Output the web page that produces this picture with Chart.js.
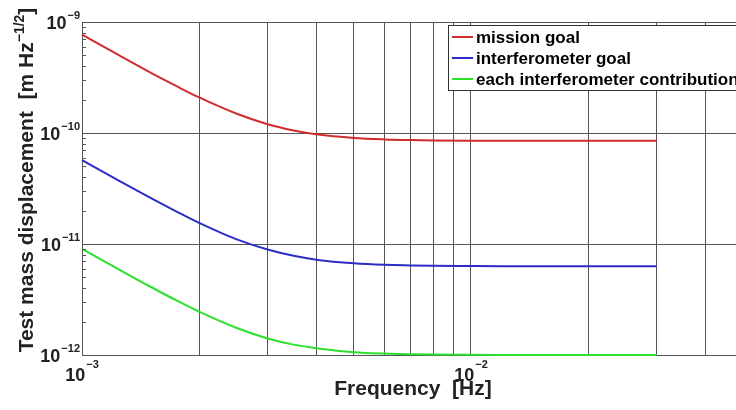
<!DOCTYPE html>
<html>
<head>
<meta charset="utf-8">
<script src="https://cdn.jsdelivr.net/npm/chart.js@4/dist/chart.umd.min.js"></script>
<style>
  html, body { margin: 0; padding: 0; background: #ffffff; }
  #wrap { width: 736px; height: 410px; position: relative; overflow: hidden; }
</style>
</head>
<body>
<div id="wrap"><canvas id="chart" width="736" height="410"></canvas></div>
<script>
// Frequency samples [Hz]
const freqs = [0.001, 0.00125, 0.0015, 0.00175, 0.002, 0.0025, 0.003, 0.0035, 0.004,
               0.005, 0.006, 0.007, 0.008, 0.01, 0.012, 0.015, 0.02, 0.025, 0.03];

// Displacement noise budgets [m Hz^-1/2]
const missionGoal = [7.70e-10, 4.97e-10, 3.50e-10, 2.64e-10, 2.09e-10, 1.49e-10, 1.20e-10, 1.055e-10, 9.75e-11,
                     9.03e-11, 8.76e-11, 8.64e-11, 8.58e-11, 8.53e-11, 8.52e-11, 8.51e-11, 8.50e-11, 8.50e-11, 8.50e-11];
const interferometerGoal = [5.70e-11, 3.68e-11, 2.60e-11, 1.96e-11, 1.55e-11, 1.10e-11, 8.91e-12, 7.82e-12, 7.23e-12,
                            6.70e-12, 6.49e-12, 6.41e-12, 6.36e-12, 6.33e-12, 6.31e-12, 6.30e-12, 6.30e-12, 6.30e-12, 6.30e-12];
const eachContribution = [9.06e-12, 5.85e-12, 4.12e-12, 3.10e-12, 2.46e-12, 1.75e-12, 1.41e-12, 1.24e-12, 1.15e-12,
                          1.06e-12, 1.03e-12, 1.017e-12, 1.01e-12, 1.004e-12, 1.002e-12, 1.001e-12, 1.0e-12, 1.0e-12, 1.0e-12];

const seriesNames = ['mission goal', 'interferometer goal', 'each interferometer contribution'];
const seriesColors = ['#d12c2c', '#2c2cc8', '#2ce02c'];

// Axis ticks: decade exponents carry labels, grid at every 1..9 multiple
const xMin = 0.001, xMax = 0.048;
const yMin = 1e-12, yMax = 1e-9;
const xLabelExponents = [-3, -2];
const yLabelExponents = [-12, -11, -10, -9];
const xGridValues = [0.001, 0.002, 0.003, 0.004, 0.005, 0.006, 0.007, 0.008, 0.009,
                     0.01, 0.02, 0.03, 0.04];
const yGridValues = [1e-12, 1e-11, 1e-10, 1e-9];

const xTitle = 'Frequency  [Hz]';
const yTitle = 'Test mass displacement  [m Hz';
const yTitleExp = '\u22121/2';

const FONT = '"Liberation Sans", Arial, Helvetica, sans-serif';
const INK = '#222222';
const GRID = '#555555';

function toPoints(vals) { return freqs.map((f, i) => ({ x: f, y: vals[i] })); }

function drawPower(ctx, exp, x, y, align, raise) {
  const base = '10', sup = '\u2212' + Math.abs(exp);
  ctx.font = 'bold 18px ' + FONT;
  const wb = ctx.measureText(base).width;
  ctx.font = 'bold 11px ' + FONT;
  const ws = ctx.measureText(sup).width;
  const total = wb + 1 + ws;
  let x0 = align === 'right' ? x - total : x - total / 2;
  ctx.textAlign = 'left';
  ctx.textBaseline = 'alphabetic';
  ctx.fillStyle = INK;
  ctx.font = 'bold 18px ' + FONT;
  ctx.fillText(base, x0, y);
  ctx.font = 'bold 11px ' + FONT;
  ctx.fillText(sup, x0 + wb + 1, y - raise);
}

const decorations = {
  id: 'decorations',
  afterDraw(chart) {
    const { ctx, chartArea, scales } = chart;
    const xs = scales.x, ys = scales.y;
    ctx.save();

    // inward minor ticks on the left axis
    ctx.strokeStyle = GRID;
    ctx.lineWidth = 1;
    for (let e = -12; e < -9; e++) {
      for (let m = 2; m <= 9; m++) {
        const py = Math.round(ys.getPixelForValue(m * Math.pow(10, e))) + 0.5;
        ctx.beginPath();
        ctx.moveTo(chartArea.left, py);
        ctx.lineTo(chartArea.left + 4, py);
        ctx.stroke();
      }
    }

    // decade tick labels
    yLabelExponents.forEach(e => {
      const py = ys.getPixelForValue(Math.pow(10, e));
      drawPower(ctx, e, chartArea.left - 2, py + 7, 'right', 10);
    });
    xLabelExponents.forEach(e => {
      const px = xs.getPixelForValue(Math.pow(10, e));
      drawPower(ctx, e, px, chartArea.bottom + 26, 'center', 13);
    });

    // axis titles
    ctx.fillStyle = INK;
    ctx.font = 'bold 21px ' + FONT;
    ctx.textAlign = 'center';
    ctx.textBaseline = 'alphabetic';
    ctx.fillText(xTitle, 413, 395);

    ctx.save();
    ctx.translate(33, 180);
    ctx.rotate(-Math.PI / 2);
    ctx.font = 'bold 21px ' + FONT;
    const w1 = ctx.measureText(yTitle).width;
    ctx.font = 'bold 14px ' + FONT;
    const w2 = ctx.measureText(yTitleExp).width;
    ctx.font = 'bold 21px ' + FONT;
    const w3 = ctx.measureText(']').width;
    let tx = -(w1 + w2 + w3) / 2;
    ctx.textAlign = 'left';
    ctx.fillText(yTitle, tx, 0);
    ctx.font = 'bold 14px ' + FONT;
    ctx.fillText(yTitleExp, tx + w1, -9);
    ctx.font = 'bold 21px ' + FONT;
    ctx.fillText(']', tx + w1 + w2, 0);
    ctx.restore();

    // legend box
    const lx = 448.5, ly = 25.5, lw = 320, lh = 65;
    ctx.fillStyle = '#ffffff';
    ctx.fillRect(lx, ly, lw, lh);
    ctx.strokeStyle = '#333333';
    ctx.lineWidth = 1;
    ctx.strokeRect(lx, ly, lw, lh);
    ctx.font = 'bold 17px ' + FONT;
    ctx.textAlign = 'left';
    seriesNames.forEach((name, i) => {
      const cy = 37 + i * 21;
      ctx.strokeStyle = seriesColors[i];
      ctx.lineWidth = 2;
      ctx.beginPath();
      ctx.moveTo(452, cy);
      ctx.lineTo(473, cy);
      ctx.stroke();
      ctx.fillStyle = '#000000';
      ctx.fillText(name, 476, cy + 6);
    });

    ctx.restore();
  }
};

new Chart(document.getElementById('chart'), {
  type: 'line',
  data: {
    datasets: [missionGoal, interferometerGoal, eachContribution].map((vals, i) => ({
      label: seriesNames[i],
      data: toPoints(vals),
      borderColor: seriesColors[i],
      backgroundColor: seriesColors[i],
      borderWidth: 2,
      pointRadius: 0,
      cubicInterpolationMode: 'monotone',
      fill: false,
      clip: 2
    }))
  },
  options: {
    responsive: false,
    animation: false,
    devicePixelRatio: 1,
    layout: { padding: { left: 82, top: 22, right: 0, bottom: 55 } },
    plugins: { legend: { display: false }, tooltip: { enabled: false } },
    scales: {
      x: {
        type: 'logarithmic',
        min: xMin,
        max: xMax,
        afterBuildTicks(scale) { scale.ticks = xGridValues.map(v => ({ value: v })); },
        ticks: { display: false },
        grid: { color: GRID, lineWidth: 1, drawTicks: false },
        border: { display: false }
      },
      y: {
        type: 'logarithmic',
        min: yMin,
        max: yMax,
        afterBuildTicks(scale) { scale.ticks = yGridValues.map(v => ({ value: v })); },
        ticks: { display: false },
        grid: { color: GRID, lineWidth: 1, drawTicks: false },
        border: { display: false }
      }
    }
  },
  plugins: [decorations]
});
</script>
</body>
</html>
